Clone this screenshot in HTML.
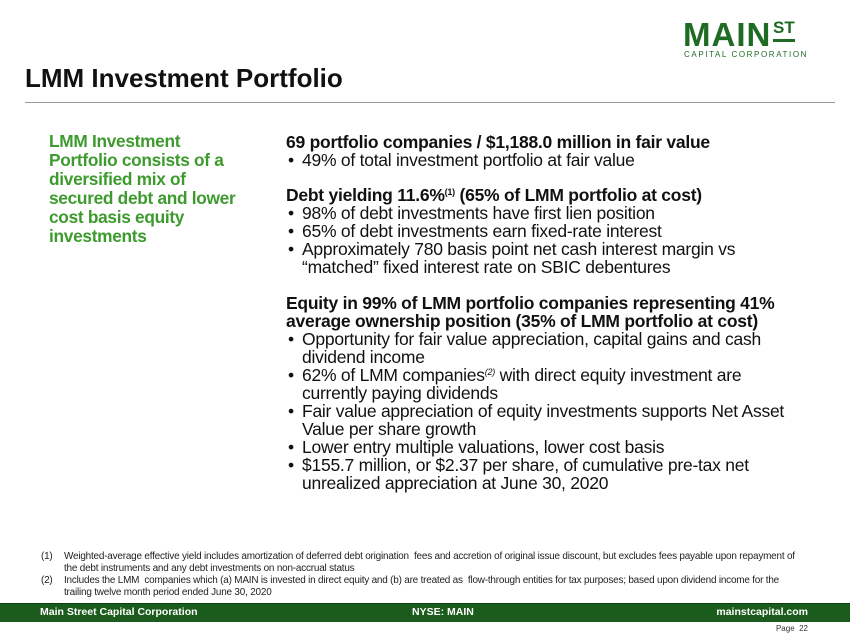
<!DOCTYPE html><html><head><style>
body{margin:0;width:850px;height:638px;background:#fff;position:relative;overflow:hidden;font-family:"Liberation Sans",Arial,sans-serif;color:#111}
.a{position:absolute;white-space:nowrap}
.r{font-size:17.5px;line-height:18px;letter-spacing:-0.25px}
.b{font-weight:bold}
.g{color:#3d9b2e;font-weight:bold;font-size:17.3px;line-height:19px;letter-spacing:-0.3px}
.fn{font-size:9.95px;line-height:12px;color:#222;letter-spacing:-0.2px}
sup{line-height:0;font-size:9px;vertical-align:6px}
.li{padding-left:16px;position:relative}
.li>span{left:2px;position:absolute}
</style></head><body>
<div class="a" style="left:683px;top:18px;font-weight:bold;font-size:33px;color:#1f6b23;letter-spacing:1px;line-height:34px">MAIN</div>
<div class="a" style="left:773px;top:19px;font-weight:bold;font-size:17px;color:#1f6b23;line-height:18px">ST</div>
<div class="a" style="left:773px;top:39px;width:22px;height:3px;background:#1f6b23"></div>
<div class="a" style="left:684px;top:50px;font-size:8px;color:#1f6b23;letter-spacing:1.6px">CAPITAL CORPORATION</div>
<div class="a b" style="left:25px;top:64px;font-size:26px;line-height:28px">LMM Investment Portfolio</div>
<div class="a" style="left:25px;top:102px;width:810px;height:1px;background:#999"></div>
<div class="a g" style="left:49px;top:132px">LMM Investment<br>Portfolio consists of a<br>diversified mix of<br>secured debt and lower<br>cost basis equity<br>investments</div>
<div class="a r" style="left:286px;top:133px">
<div class="b">69 portfolio companies / $1,188.0 million in fair value</div>
<div class="li"><span>•</span>49% of total investment portfolio at fair value</div>
<div style="height:17px"></div>
<div class="b">Debt yielding 11.6%<sup>(1)</sup> (65% of LMM portfolio at cost)</div>
<div class="li"><span>•</span>98% of debt investments have first lien position</div>
<div class="li"><span>•</span>65% of debt investments earn fixed-rate interest</div>
<div class="li"><span>•</span>Approximately 780 basis point net cash interest margin vs<br>“matched” fixed interest rate on SBIC debentures</div>
<div style="height:18px"></div>
<div class="b">Equity in 99% of LMM portfolio companies representing 41%<br>average ownership position (35% of LMM portfolio at cost)</div>
<div class="li"><span>•</span>Opportunity for fair value appreciation, capital gains and cash<br>dividend income</div>
<div class="li"><span>•</span>62% of LMM companies<sup><i>(2)</i></sup> with direct equity investment are<br>currently paying dividends</div>
<div class="li"><span>•</span>Fair value appreciation of equity investments supports Net Asset<br>Value per share growth</div>
<div class="li"><span>•</span>Lower entry multiple valuations, lower cost basis</div>
<div class="li"><span>•</span>$155.7 million, or $2.37 per share, of cumulative pre-tax net<br>unrealized appreciation at June 30, 2020</div>
</div>
<div class="a fn" style="left:41px;top:551px">(1)</div>
<div class="a fn" style="left:64px;top:551px">Weighted-average effective yield includes amortization of deferred debt origination &nbsp;fees and accretion of original issue discount, but excludes fees payable upon repayment of<br>the debt instruments and any debt investments on non-accrual status</div>
<div class="a fn" style="left:41px;top:575px">(2)</div>
<div class="a fn" style="left:64px;top:575px">Includes the LMM &nbsp;companies which (a) MAIN is invested in direct equity and (b) are treated as &nbsp;flow-through entities for tax purposes; based upon dividend income for the<br>trailing twelve month period ended June 30, 2020</div>
<div class="a" style="left:0;top:603px;width:850px;height:18px;background:#1b5b1b;border-top:1px solid #0e3d0e"></div>
<div class="a b" style="left:40px;top:605px;color:#fff;font-size:10.5px;line-height:14px">Main Street Capital Corporation</div>
<div class="a b" style="left:412px;top:605px;color:#fff;font-size:10.5px;line-height:14px">NYSE: MAIN</div>
<div class="a b" style="right:42px;top:605px;color:#fff;font-size:10.5px;line-height:14px">mainstcapital.com</div>
<div class="a" style="right:42px;top:624px;font-size:8px;color:#333">Page &nbsp;22</div>
</body></html>
